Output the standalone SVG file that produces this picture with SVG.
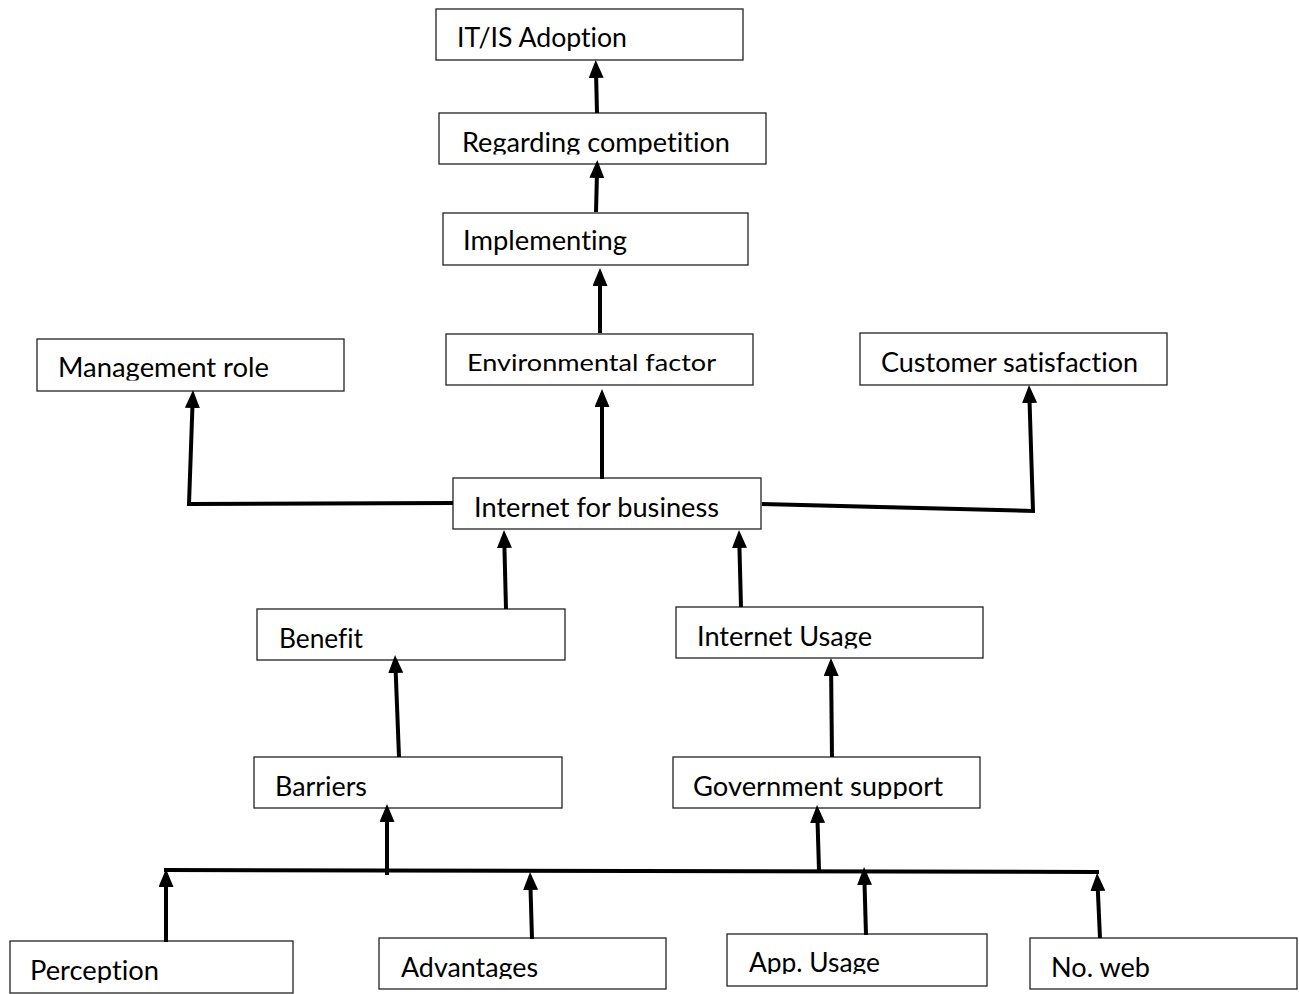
<svg xmlns="http://www.w3.org/2000/svg" width="1299" height="994" viewBox="0 0 1299 994">
<style>
.box{fill:#fff;stroke:#222;stroke-width:1.3}
.lbl{font-family:Lato,"Open Sans","Liberation Sans",sans-serif;font-size:26px;fill:#000;font-variant-ligatures:none;font-feature-settings:"liga" 0,"clig" 0}
.c{fill:none;stroke:#000;stroke-width:4;stroke-linejoin:miter}
.a{marker-end:url(#ah)}
</style>
<defs>
<marker id="ah" markerUnits="userSpaceOnUse" markerWidth="18" markerHeight="15" refX="6" refY="7.5" orient="auto">
<path d="M0,0 L18,7.5 L0,15 Z" fill="#000"/>
</marker>
<clipPath id="cl-itis"><rect x="436" y="9" width="307" height="42"/></clipPath>
<clipPath id="cl-reg"><rect x="439" y="113" width="327" height="41.5"/></clipPath>
<clipPath id="cl-impl"><rect x="443" y="213" width="305" height="42"/></clipPath>
<clipPath id="cl-mgmt"><rect x="37" y="339" width="307" height="41.5"/></clipPath>
<clipPath id="cl-iu"><rect x="676" y="607" width="307" height="41.5"/></clipPath>
<clipPath id="cl-gov"><rect x="673" y="757" width="307" height="42"/></clipPath>
<clipPath id="cl-perc"><rect x="10" y="941" width="283" height="42"/></clipPath>
<clipPath id="cl-adv"><rect x="379" y="938" width="287" height="41"/></clipPath>
<clipPath id="cl-app"><rect x="727" y="934" width="260" height="40"/></clipPath>
</defs>

<g id="itis-adoption">
<rect class="box" x="436" y="9" width="307" height="51"/>
<text class="lbl" x="457" y="47" textLength="170" lengthAdjust="spacingAndGlyphs" clip-path="url(#cl-itis)">IT/IS Adoption</text>
</g>
<g id="regarding-competition">
<rect class="box" x="439" y="113" width="327" height="51"/>
<text class="lbl" x="462" y="151.5" textLength="268" lengthAdjust="spacingAndGlyphs" clip-path="url(#cl-reg)">Regarding competition</text>
</g>
<g id="implementing">
<rect class="box" x="443" y="213" width="305" height="52"/>
<text class="lbl" x="463" y="250" textLength="164" lengthAdjust="spacingAndGlyphs" clip-path="url(#cl-impl)">Implementing</text>
</g>
<g id="environmental-factor">
<rect class="box" x="446" y="334" width="307" height="51"/>
<text class="lbl" x="467" y="371" textLength="249" lengthAdjust="spacingAndGlyphs" style="font-size:24px">Environmental factor</text>
</g>
<g id="management-role">
<rect class="box" x="37" y="339" width="307" height="52"/>
<text class="lbl" x="58" y="377" textLength="211" lengthAdjust="spacingAndGlyphs" clip-path="url(#cl-mgmt)">Management role</text>
</g>
<g id="customer-satisfaction">
<rect class="box" x="860" y="333" width="307" height="52"/>
<text class="lbl" x="881" y="372" textLength="257" lengthAdjust="spacingAndGlyphs">Customer satisfaction</text>
</g>
<g id="internet-for-business">
<rect class="box" x="453" y="478" width="308" height="51"/>
<text class="lbl" x="474" y="517" textLength="245" lengthAdjust="spacingAndGlyphs">Internet for business</text>
</g>
<g id="benefit">
<rect class="box" x="257" y="609" width="308" height="51"/>
<text class="lbl" x="279" y="648" textLength="84" lengthAdjust="spacingAndGlyphs">Benefit</text>
</g>
<g id="internet-usage">
<rect class="box" x="676" y="607" width="307" height="51"/>
<text class="lbl" x="697" y="646" textLength="175" lengthAdjust="spacingAndGlyphs" clip-path="url(#cl-iu)">Internet Usage</text>
</g>
<g id="barriers">
<rect class="box" x="254" y="757" width="308" height="51"/>
<text class="lbl" x="275" y="796" textLength="92" lengthAdjust="spacingAndGlyphs">Barriers</text>
</g>
<g id="government-support">
<rect class="box" x="673" y="757" width="307" height="51"/>
<text class="lbl" x="693" y="796" textLength="250" lengthAdjust="spacingAndGlyphs" clip-path="url(#cl-gov)">Government support</text>
</g>
<g id="perception">
<rect class="box" x="10" y="941" width="283" height="52"/>
<text class="lbl" x="30" y="980" textLength="129" lengthAdjust="spacingAndGlyphs" clip-path="url(#cl-perc)">Perception</text>
</g>
<g id="advantages">
<rect class="box" x="379" y="938" width="287" height="51"/>
<text class="lbl" x="401" y="977" textLength="137" lengthAdjust="spacingAndGlyphs" clip-path="url(#cl-adv)">Advantages</text>
</g>
<g id="app-usage">
<rect class="box" x="727" y="934" width="260" height="52"/>
<text class="lbl" x="749" y="972" textLength="131" lengthAdjust="spacingAndGlyphs" clip-path="url(#cl-app)">App. Usage</text>
</g>
<g id="no-web">
<rect class="box" x="1030" y="938" width="267" height="51"/>
<text class="lbl" x="1051" y="977" textLength="99" lengthAdjust="spacingAndGlyphs">No. web</text>
</g>

<g id="connectors">
<path class="c a" d="M597,113 L596,72"/>
<path class="c a" d="M596,212 L597,172"/>
<path class="c a" d="M600,333 L600,280"/>
<path class="c a" d="M602,479 L602,401"/>
<path class="c a" d="M453,503 L189,504 L192.6,402"/>
<path class="c a" d="M762,504 L1033,511 L1029.4,397"/>
<path class="c a" d="M506,609 L504.3,542"/>
<path class="c a" d="M741,607 L739.3,542"/>
<path class="c a" d="M399,757 L395.5,667"/>
<path class="c a" d="M832,757 L831.1,670"/>
<path class="c a" d="M387,875 L387,816"/>
<path class="c a" d="M819,870 L817.4,817"/>
<path class="c" d="M164,870 L1099,872"/>
<path class="c a" d="M166,942 L166,881"/>
<path class="c a" d="M532,939 L530.4,884"/>
<path class="c a" d="M866,935 L864.4,879"/>
<path class="c a" d="M1100,938 L1097.6,885"/>
</g>
</svg>
